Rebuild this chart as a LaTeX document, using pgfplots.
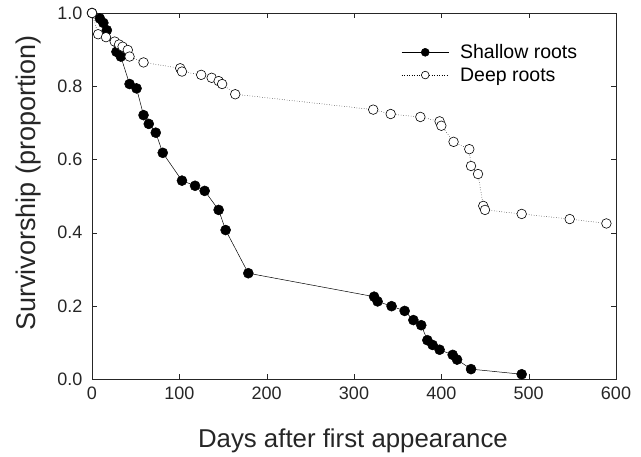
\documentclass[border=0pt]{standalone}
\usepackage{fontspec}
\setmainfont{Liberation Sans}
\usepackage{pgfplots}
\pgfplotsset{compat=1.18}
\begin{document}
\begin{tikzpicture}
\begin{axis}[
  name=ax,
  scale only axis, width=524pt, height=366pt,
  xmin=0, xmax=600, ymin=0, ymax=1.0,
  xtick={0,100,...,600}, ytick={0,0.2,...,1.0},
  tick align=inside, major tick length=5pt,
  xtick pos=both, ytick pos=both,
  axis line style={black!85},
  tick style={black!85},
  /pgf/number format/assume math mode=true,
  yticklabel style={/pgf/number format/fixed,/pgf/number format/fixed zerofill,/pgf/number format/precision=1, xshift=-6pt},
  xticklabel style={yshift=-4pt},
  ticklabel style={font=\fontsize{18}{20}\selectfont, text=black!85},
  xlabel={Days after first appearance},
  ylabel={Survivorship (proportion)},
  xlabel style={font=\fontsize{25.8}{28}\selectfont, text=black!85, at={(axis description cs:0.498,-0.186)}, anchor=base},
  ylabel style={font=\fontsize{27}{29}\selectfont, text=black!85, at={(axis description cs:-0.122,0.536)}, anchor=center},
  clip=false,
  legend style={draw=none, fill=none, at={(0.59,0.92)}, anchor=north west, font=\fontsize{19.5}{21}\selectfont, row sep=3.5pt, column sep=9pt, inner sep=0pt},
  legend cell align=left,
  legend image code/.code={\draw[mark repeat=2,mark phase=2,#1, every mark/.append style={scale=0.8}] plot coordinates {(0cm,0cm) (0.83cm,0cm) (1.66cm,0cm)};},
]
\addplot[black, line width=0.5pt, mark=*, mark size=5pt, mark options={solid, fill=black}] coordinates {
(0,1.0) (9,0.985) (13,0.973) (17,0.953) (28,0.894) (33,0.881) (43,0.806) (51,0.794)
(59,0.721) (65,0.697) (73,0.673) (81,0.618) (103,0.542) (118,0.528) (129,0.514)
(145,0.462) (153,0.407) (179,0.289) (323,0.225) (327,0.212) (343,0.199) (358,0.186)
(368,0.161) (377,0.147) (384,0.106) (390,0.093) (398,0.080) (413,0.066) (418,0.053)
(434,0.027) (492,0.013)
};
\addlegendentry{Shallow roots}
\addplot[black, line width=0.5pt, dotted, mark=*, mark size=4.8pt, mark options={solid, fill=white, line width=0.6pt}] coordinates {
(0,1.0) (7,0.942) (16,0.934) (26,0.922) (31,0.914) (35,0.908) (41,0.899) (43,0.881)
(59,0.865) (101,0.849) (103,0.840) (125,0.831) (137,0.823) (145,0.814) (149,0.806)
(164,0.778) (322,0.736) (342,0.724) (376,0.716) (398,0.704) (400,0.692) (414,0.648)
(432,0.628) (434,0.582) (442,0.560) (448,0.473) (450,0.462) (492,0.451) (547,0.437)
(589,0.425)
};
\addlegendentry{Deep roots}
\end{axis}
\pgfresetboundingbox
\useasboundingbox ([shift={(-92pt,-77pt)}]ax.south west) rectangle ([shift={(25pt,13pt)}]ax.north east);
\end{tikzpicture}
\end{document}
